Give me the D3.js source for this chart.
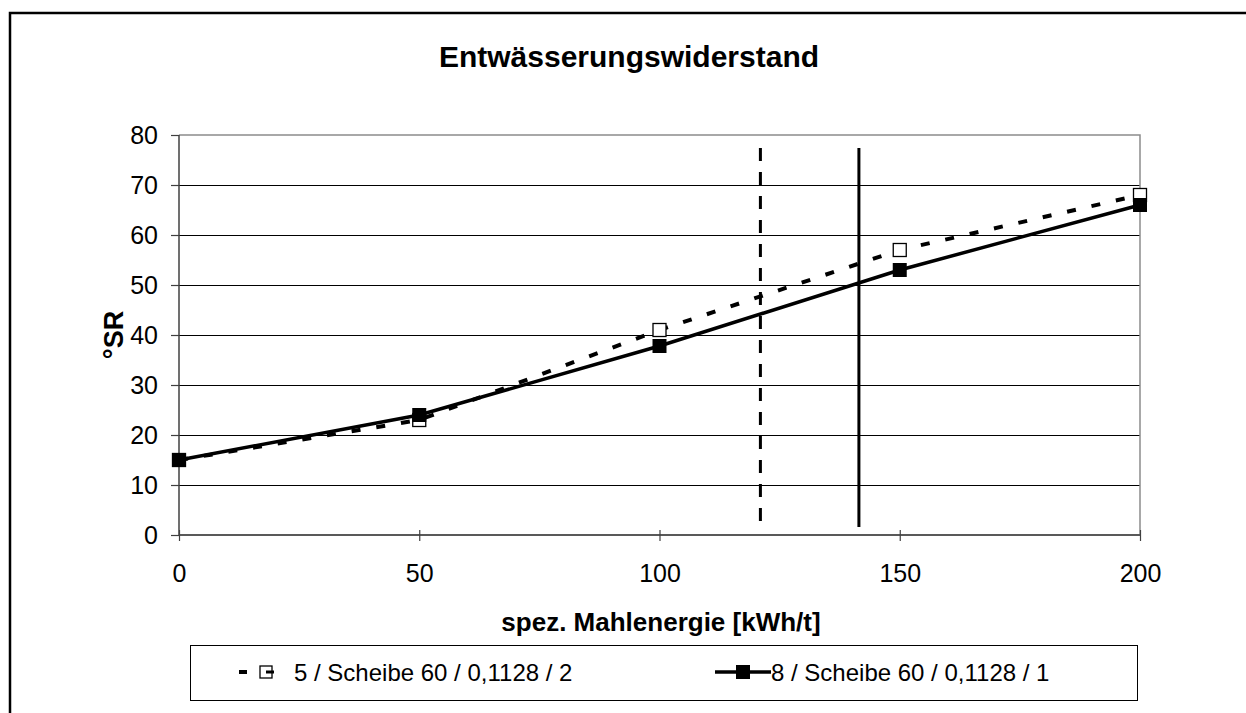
<!DOCTYPE html>
<html>
<head>
<meta charset="utf-8">
<script src="https://cdn.jsdelivr.net/npm/d3@7"></script>
<style>
  html, body { margin: 0; padding: 0; background: #fff; }
  svg { display: block; font-family: "Liberation Sans", Arial, sans-serif; }
</style>
</head>
<body>
<svg id="chart" width="1246" height="713"></svg>
<script>
// Mahlenergie (kWh/t) and Entwässerungswiderstand (°SR)
const energy = [0, 50, 100, 150, 200];
const srSeries5 = [15, 23, 41, 57, 68];
const srSeries8 = [15, 24, 37.8, 53, 66];
const seriesNames = ["5 / Scheibe 60 / 0,1128 / 2", "8 / Scheibe 60 / 0,1128 / 1"];

// vertical reference lines (dashed for series 5, solid for series 8)
const refLineX = [121, 141.5];
const refLineSpan = [1.6, 77.4];

const xTicks = [0, 50, 100, 150, 200];
const yTicks = [0, 10, 20, 30, 40, 50, 60, 70, 80];

const titleText = "Entwässerungswiderstand";
const xTitle = "spez. Mahlenergie [kWh/t]";
const yTitle = "°SR";

const svg = d3.select("#chart");

const plot = { left: 179, right: 1140, top: 135, bottom: 535 };
const x = d3.scaleLinear().domain([0, 200]).range([plot.left, plot.right]);
const y = d3.scaleLinear().domain([0, 80]).range([plot.bottom, plot.top]);

const tickFont = 25;

// outer chart frame (open to the right and bottom)
svg.append("path")
  .attr("d", `M10,713 L10,13 L1246,13`)
  .attr("fill", "none").attr("stroke", "#000").attr("stroke-width", 2.5);

// horizontal gridlines (half-pixel offset keeps them crisp)
svg.append("g").selectAll("line").data(yTicks.filter(d => d > 0 && d < 80)).join("line")
  .attr("x1", plot.left).attr("x2", plot.right)
  .attr("y1", d => y(d) + 0.5).attr("y2", d => y(d) + 0.5)
  .attr("stroke", "#000").attr("stroke-width", 1);

// plot area border (top / right)
svg.append("path")
  .attr("d", `M${plot.left},${plot.top} L${plot.right},${plot.top} L${plot.right},${plot.bottom}`)
  .attr("fill", "none").attr("stroke", "#8c8c8c").attr("stroke-width", 1.5);

// y axis
const yAxis = svg.append("g")
  .attr("transform", `translate(${plot.left},0)`)
  .call(d3.axisLeft(y).tickValues(yTicks).tickSize(8).tickPadding(13).tickFormat(d3.format("d")));
yAxis.select(".domain").attr("stroke", "#404040").attr("stroke-width", 1.5).attr("d", `M0,${plot.top}V${plot.bottom}`);
yAxis.selectAll(".tick line").attr("stroke", "#404040").attr("stroke-width", 1.2);
yAxis.selectAll(".tick text").attr("font-size", tickFont).attr("fill", "#000")
  .attr("font-family", "Liberation Sans, Arial, sans-serif");

// x axis
const xAxis = svg.append("g")
  .attr("transform", `translate(0,${plot.bottom})`)
  .call(d3.axisBottom(x).tickValues(xTicks).tickSize(6).tickPadding(23).tickFormat(d3.format("d")));
xAxis.select(".domain").attr("stroke", "#595959").attr("stroke-width", 2).attr("d", `M${plot.left},0H${plot.right}`);
xAxis.selectAll(".tick line").attr("stroke", "#404040").attr("stroke-width", 1.2).attr("y1", -5);
xAxis.selectAll(".tick text").attr("font-size", tickFont).attr("fill", "#000")
  .attr("font-family", "Liberation Sans, Arial, sans-serif");

// vertical reference lines
svg.append("g").selectAll("line").data(refLineX).join("line")
  .attr("x1", d => x(d)).attr("x2", d => x(d))
  .attr("y1", y(refLineSpan[1])).attr("y2", y(refLineSpan[0]))
  .attr("stroke", "#000").attr("stroke-width", 3)
  .attr("stroke-dasharray", (d, i) => i === 0 ? "13,11" : null);

// series lines
const line = d3.line().x(d => x(d[0])).y(d => y(d[1]));
const pts5 = energy.map((e, i) => [e, srSeries5[i]]);
const pts8 = energy.map((e, i) => [e, srSeries8[i]]);

svg.append("path").datum(pts5).attr("d", line)
  .attr("fill", "none").attr("stroke", "#000").attr("stroke-width", 4)
  .attr("stroke-dasharray", "9,16");

const ms = 13;
svg.append("g").selectAll("rect").data(pts5).join("rect")
  .attr("x", d => x(d[0]) - ms / 2).attr("y", d => y(d[1]) - ms / 2)
  .attr("width", ms).attr("height", ms)
  .attr("fill", "#fff").attr("stroke", "#000").attr("stroke-width", 1.3);

svg.append("path").datum(pts8).attr("d", line)
  .attr("fill", "none").attr("stroke", "#000").attr("stroke-width", 3.5);

const fs = 14;
svg.append("g").selectAll("rect").data(pts8).join("rect")
  .attr("x", d => x(d[0]) - fs / 2).attr("y", d => y(d[1]) - fs / 2)
  .attr("width", fs).attr("height", fs)
  .attr("fill", "#000");

// titles
svg.append("text").attr("x", 629).attr("y", 67).attr("text-anchor", "middle")
  .attr("font-size", 30).attr("font-weight", "bold").text(titleText);
svg.append("text").attr("x", 661).attr("y", 631).attr("text-anchor", "middle")
  .attr("font-size", 26).attr("font-weight", "bold").text(xTitle);
svg.append("text").attr("transform", "translate(123,335) rotate(-90)").attr("text-anchor", "middle")
  .attr("font-size", 27).attr("font-weight", "bold").text(yTitle);

// legend
const lg = svg.append("g");
lg.append("rect").attr("x", 190.5).attr("y", 645.5).attr("width", 947).attr("height", 55)
  .attr("fill", "#fff").attr("stroke", "#000").attr("stroke-width", 1);
const legendY = 672;
// entry 1: dashed line + open square
lg.append("line").attr("x1", 239).attr("x2", 247).attr("y1", legendY).attr("y2", legendY)
  .attr("stroke", "#000").attr("stroke-width", 4);
lg.append("rect").attr("x", 260).attr("y", legendY - 6).attr("width", 12).attr("height", 12)
  .attr("fill", "#fff").attr("stroke", "#000").attr("stroke-width", 1.3);
lg.append("line").attr("x1", 266).attr("x2", 274).attr("y1", legendY).attr("y2", legendY)
  .attr("stroke", "#000").attr("stroke-width", 3);
lg.append("text").attr("x", 294).attr("y", legendY + 9).attr("font-size", 24).text(seriesNames[0]);
// entry 2: solid line + filled square
lg.append("line").attr("x1", 715).attr("x2", 771).attr("y1", legendY).attr("y2", legendY)
  .attr("stroke", "#000").attr("stroke-width", 3.5);
lg.append("rect").attr("x", 736).attr("y", legendY - 7).attr("width", 14).attr("height", 14)
  .attr("fill", "#000");
lg.append("text").attr("x", 771).attr("y", legendY + 9).attr("font-size", 24).text(seriesNames[1]);
</script>
</body>
</html>
